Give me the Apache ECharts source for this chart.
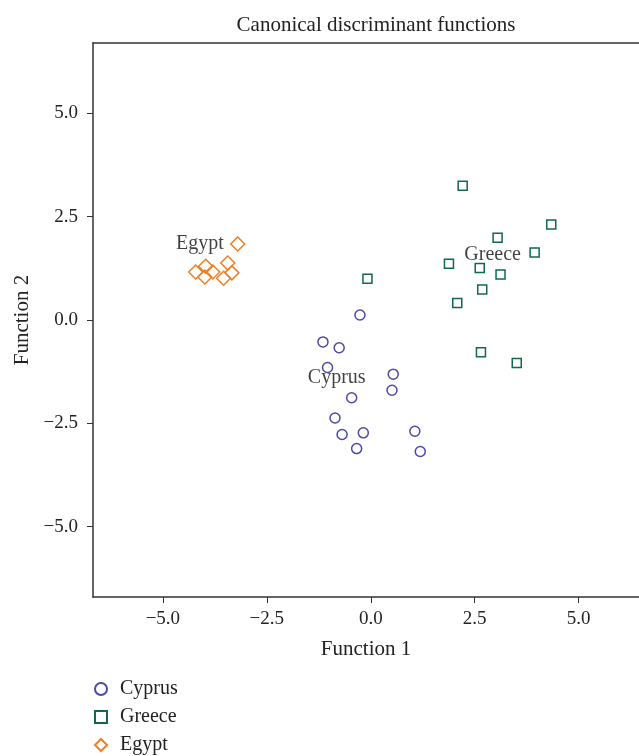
<!DOCTYPE html>
<html>
<head>
<meta charset="utf-8">
<script src="https://cdn.jsdelivr.net/npm/echarts@6/dist/echarts.min.js"></script>
<style>
html,body{margin:0;padding:0;background:#fff;}
#chart_1{width:639px;height:756px;}
</style>
</head>
<body>
<div id="chart_1"></div>
<script>
// 读图得到的点 (Function 1, Function 2)
var cyprusPts = [
    [-0.26, 0.12], [-1.15, -0.53], [-0.76, -0.67], [-1.04, -1.15],
    [0.54, -1.31], [0.51, -1.70], [-0.46, -1.88], [-0.86, -2.37],
    [-0.69, -2.77], [-0.18, -2.73], [1.06, -2.69], [-0.34, -3.11],
    [1.19, -3.18]
];
var greecePts = [
    [2.21, 3.25], [4.34, 2.31], [3.05, 1.99], [3.94, 1.63],
    [1.88, 1.36], [2.62, 1.26], [3.12, 1.10], [-0.08, 1.00],
    [2.68, 0.74], [2.08, 0.41], [2.65, -0.78], [3.51, -1.04]
];
var egyptPts = [
    [-3.20, 1.84], [-4.21, 1.16], [-3.97, 1.30], [-3.80, 1.16],
    [-3.99, 1.04], [-3.44, 1.38], [-3.34, 1.14], [-3.54, 1.01]
];
// 组中心标签
var centroidNames = ['Cyprus', 'Greece', 'Egypt'];
var centroidPts = [[-0.82, -1.40], [2.93, 1.59], [-4.11, 1.84]];
var tickValues = [-5, -2.5, 0, 2.5, 5];

var serif = "'Liberation Serif', 'DejaVu Serif', serif";

function fmtTick(v) {
    var s = Math.abs(v).toFixed(1);
    return v < 0 ? '\u2212' + s : s;
}

function initChart(div_id) {
    var myChart = echarts.init(document.getElementById(div_id), null, {renderer: 'canvas'});

    var centroidData = [];
    for (var i = 0; i < centroidNames.length; i++) {
        centroidData.push({value: centroidPts[i], name: centroidNames[i]});
    }

    var lineStyle = {color: '#333', width: 1.5};

    var option = {
        backgroundColor: '#fff',
        animation: false,
        title: {
            text: 'Canonical discriminant functions',
            left: 371,
            top: 10,
            textAlign: 'center',
            textStyle: {fontFamily: serif, fontSize: 21, fontWeight: 'normal', color: '#222'}
        },
        legend: {
            orient: 'vertical',
            left: 94,
            top: 679,
            height: 80,
            padding: 0,
            itemGap: 8,
            itemWidth: 12,
            itemHeight: 12,
            data: ['Cyprus', 'Greece', 'Egypt'],
            textStyle: {fontFamily: serif, fontSize: 20, color: '#222', padding: [0, 0, 0, 8]}
        },
        grid: {
            left: 93,
            top: 43,
            right: 0,
            bottom: 159
        },
        xAxis: [
            {
                type: 'value',
                min: -6.68,
                max: 6.45,
                name: 'Function 1',
                nameLocation: 'middle',
                nameGap: 42,
                nameTextStyle: {fontFamily: serif, fontSize: 21, color: '#222'},
                axisLine: {show: true, onZero: false, lineStyle: lineStyle},
                axisTick: {show: true, length: 6, lineStyle: {color: '#333'},
                    customValues: tickValues},
                axisLabel: {fontFamily: serif, fontSize: 19, color: '#222', margin: 13,
                    customValues: tickValues, formatter: fmtTick},
                splitLine: {show: false}
            },
            {
                type: 'value',
                position: 'top',
                min: -6.68,
                max: 6.45,
                axisLine: {show: true, onZero: false, lineStyle: lineStyle},
                axisTick: {show: false},
                axisLabel: {show: false},
                splitLine: {show: false}
            }
        ],
        yAxis: {
            type: 'value',
            min: -6.7,
            max: 6.7,
            name: 'Function 2',
            nameLocation: 'middle',
            nameGap: 60,
            nameTextStyle: {fontFamily: serif, fontSize: 21, color: '#222'},
            axisLine: {show: true, onZero: false, lineStyle: lineStyle},
            axisTick: {show: true, length: 6, lineStyle: {color: '#333'},
                customValues: tickValues},
            axisLabel: {fontFamily: serif, fontSize: 19, color: '#222', margin: 15,
                customValues: tickValues, formatter: fmtTick},
            splitLine: {show: false}
        },
        series: [
            {
                name: 'Cyprus',
                type: 'scatter',
                symbol: 'circle',
                symbolSize: 10,
                itemStyle: {color: 'transparent', borderColor: '#4a4aa8', borderWidth: 1.5, opacity: 1},
                data: cyprusPts
            },
            {
                name: 'Greece',
                type: 'scatter',
                symbol: 'rect',
                symbolSize: 9,
                itemStyle: {color: 'transparent', borderColor: '#0f6a45', borderWidth: 1.5, opacity: 1},
                data: greecePts
            },
            {
                name: 'Egypt',
                type: 'scatter',
                symbol: 'diamond',
                symbolSize: 14,
                itemStyle: {color: 'transparent', borderColor: '#ef7f24', borderWidth: 1.5, opacity: 1},
                data: egyptPts
            },
            {
                name: 'centroids',
                type: 'scatter',
                symbolSize: 0,
                silent: true,
                label: {
                    show: true,
                    position: 'inside',
                    formatter: '{b}',
                    fontFamily: serif,
                    fontSize: 20,
                    color: '#111',
                    textBorderWidth: 0
                },
                data: centroidData
            }
        ]
    };
    myChart.setOption(option);
}

initChart('chart_1');
</script>
</body>
</html>
